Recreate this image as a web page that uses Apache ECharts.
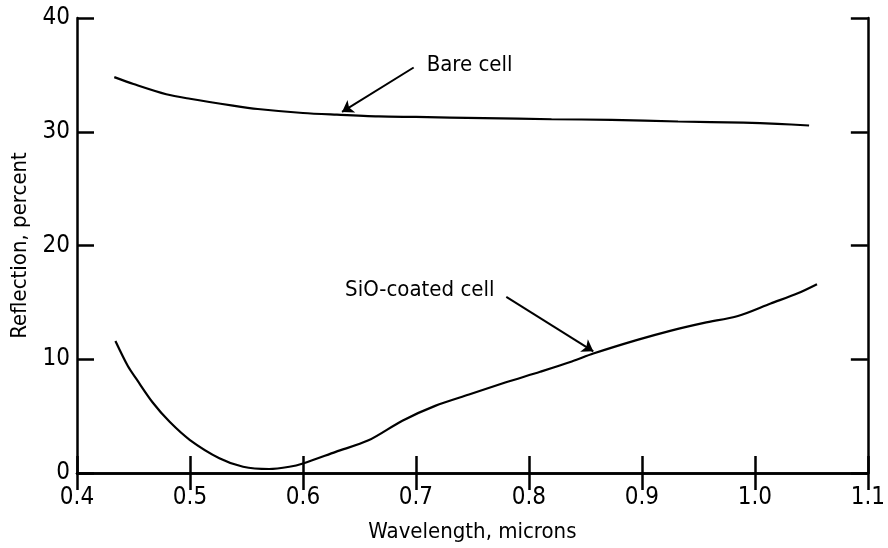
<!DOCTYPE html>
<html>
<head>
<meta charset="utf-8">
<script src="https://cdn.jsdelivr.net/npm/echarts@6/dist/echarts.min.js"></script>
<style>
html,body{margin:0;padding:0;background:#fff;}
#chart{width:888px;height:548px;}
</style>
</head>
<body>
<div id="chart"></div>
<script>
var FONT = "'Liberation Sans Narrow','DejaVu Sans Condensed','Roboto Condensed',sans-serif";
var xTicks = [0.4,0.5,0.6,0.7,0.8,0.9,1.0,1.1];
var yTicks = [0,10,20,30,40];
var bareCell = [[0.433,34.8],[0.45,34.2],[0.479,33.3],[0.5,32.9],[0.538,32.3],[0.56,32.0],[0.6,31.65],[0.63,31.5],[0.667,31.35],[0.7,31.3],[0.76,31.2],[0.82,31.1],[0.873,31.05],[0.932,30.9],[0.99,30.8],[1.02,30.7],[1.048,30.55]];
var sioCell = [[0.434,11.6],[0.445,9.4],[0.453,8.2],[0.467,6.2],[0.482,4.5],[0.5,2.9],[0.526,1.3],[0.547,0.55],[0.57,0.35],[0.588,0.55],[0.6,0.84],[0.629,1.86],[0.658,2.87],[0.688,4.6],[0.717,5.9],[0.747,6.9],[0.779,7.95],[0.81,8.9],[0.838,9.8],[0.857,10.5],[0.896,11.7],[0.925,12.5],[0.955,13.2],[0.985,13.8],[1.014,14.9],[1.038,15.8],[1.055,16.6]];
var bareLabel = {text:'Bare cell', at:[0.7095,35.8], arrowFrom:[0.698,35.65], arrowTo:[0.6346,31.74]};
var sioLabel = {text:'SiO-coated cell', at:[0.7695,16.1], arrowFrom:[0.780,15.48], arrowTo:[0.857,10.7]};

var chart = echarts.init(document.getElementById('chart'), null, {renderer:'canvas'});
var axisLine = {show:true, lineStyle:{color:'#000', width:2.5}};
var tick = {show:true, inside:true, length:17, lineStyle:{color:'#000', width:2.5}};
function xLab(v){ return Number(v).toFixed(1); }
function annot(a, align){
  return {
    silent:true,
    symbol:'none',
    label:{show:false},
    data:[{coord:a.at, symbol:'circle', symbolSize:0, label:{show:true, position:'inside', formatter:a.text, align:align, verticalAlign:'middle', color:'#000', fontFamily:FONT, fontSize:22}}]
  };
}
function arrow(a){
  return {
    silent:true,
    symbol:['none','arrow'],
    symbolSize:11,
    label:{show:false},
    lineStyle:{color:'#000', width:2, type:'solid'},
    data:[[{coord:a.arrowFrom},{coord:a.arrowTo}]]
  };
}
chart.setOption({
  animation:false,
  backgroundColor:'#fff',
  grid:{left:77, right:17, top:18, bottom:70, containLabel:false},
  xAxis:[{
    type:'value', min:xTicks[0], max:xTicks[xTicks.length-1], interval:0.1,
    axisLine:axisLine, axisTick:tick, splitLine:{show:false},
    axisLabel:{formatter:xLab, color:'#000', fontFamily:FONT, fontSize:24, margin:13},
    name:'Wavelength, microns', nameLocation:'middle', nameGap:48,
    nameTextStyle:{color:'#000', fontFamily:FONT, fontSize:22}
  },{
    type:'value', position:'top', min:xTicks[0], max:xTicks[xTicks.length-1], interval:0.1,
    axisLine:axisLine, axisTick:tick, splitLine:{show:false}, axisLabel:{show:false}
  }],
  yAxis:[{
    type:'value', min:yTicks[0], max:yTicks[yTicks.length-1], interval:10,
    axisLine:axisLine, axisTick:tick, splitLine:{show:false},
    axisLabel:{color:'#000', fontFamily:FONT, fontSize:24, margin:7},
    name:'Reflection, percent', nameLocation:'middle', nameGap:45,
    nameTextStyle:{color:'#000', fontFamily:FONT, fontSize:22}
  },{
    type:'value', position:'right', min:yTicks[0], max:yTicks[yTicks.length-1], interval:10,
    axisLine:axisLine, axisTick:tick, splitLine:{show:false}, axisLabel:{show:false}
  }],
  series:[{
    name:'Bare cell', type:'line', data:bareCell, smooth:0.3, showSymbol:false,
    lineStyle:{color:'#000', width:2.2}, itemStyle:{color:'#000'},
    markLine:arrow(bareLabel), markPoint:annot(bareLabel,'left')
  },{
    name:'SiO-coated cell', type:'line', data:sioCell, smooth:0.3, showSymbol:false,
    lineStyle:{color:'#000', width:2.2}, itemStyle:{color:'#000'},
    markLine:arrow(sioLabel), markPoint:annot(sioLabel,'right')
  }]
});
</script>
</body>
</html>
